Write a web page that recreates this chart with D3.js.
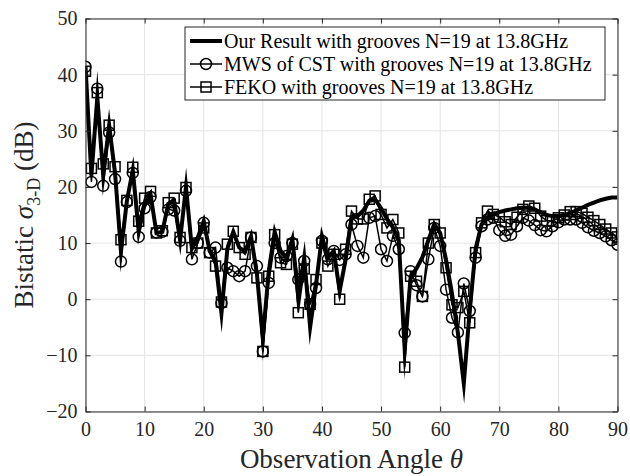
<!DOCTYPE html>
<html>
<head>
<meta charset="utf-8">
<script src="https://cdn.jsdelivr.net/npm/d3@7"></script>
<style>
  html, body { margin: 0; padding: 0; background: #fff; }
  svg { display: block; font-family: "Liberation Serif", "Times New Roman", serif; }
</style>
</head>
<body>
<svg id="chart" width="630" height="476"></svg>
<script>
// Observation angles in degrees (1 degree sampling)
const angles = d3.range(0, 91, 1);

// Bistatic RCS (dB) - our result
const ourResult = [
  41.5, 22, 36, 22, 31, 22.5, 8.5, 17.5, 23, 12,
  17, 18.7, 11.8, 12, 17, 17.5, 10.5, 20, 9, 11,
  13.9, 8.6, 6.8, -2.5, 9, 12, 9.2, 8.5, 11.2, 4.5,
  -7, 5, 12, 8.6, 7.4, 10.7, 0.5, 7.4, -5, 2.6,
  11.2, 7.4, 8.6, 1.5, 7, 14.5, 14.8, 15.8, 17.5, 17.8,
  16.2, 14.3, 12.8, 10.5, -9, 4, 5.5, 7.5, 10.5, 13.4,
  11.8, 7, 1, -6, -15, -2, 9, 13.3, 14.5, 15.1,
  15.5, 15.8, 16, 16.2, 16.3, 16.3, 16, 15.5, 15, 14.8,
  14.8, 15, 15.4, 15.8, 16.3, 16.8, 17.2, 17.6, 17.9, 18.1,
  18.1
];

// MWS of CST
const mwsCst = [
  41.4, 20.9, 37.5, 20.2, 29.7, 21.4, 6.7, 17.3, 22.5, 11.1,
  16.2, 18.2, 11.9, 12.0, 16.0, 15.8, 10.4, 19.3, 7.1, 10.0,
  13.6, 8.3, 9.2, -0.7, 5.6, 5.0, 4.1, 5.0, 11.0, 5.9,
  -9.3, 2.9, 10.0, 7.4, 7.7, 10.0, 3.5, 6.8, -0.9, 2.0,
  10.4, 7.1, 8.6, 7.0, 8.0, 13.3, 9.5, 7.4, 14.5, 14.8,
  8.9, 6.8, 11.3, 8.9, -6.0, 5.0, 2.5, 0.5, 7.1, 12.7,
  9.5, 1.7, -3.3, -5.9, 2.8, -2.1, 7.4, 13.0, 14.2, 14.5,
  12.3, 11.3, 11.5, 13.0, 14.5, 14.0, 13.2, 12.3, 12.1, 13.0,
  13.7, 14.2, 14.2, 14.2, 13.6, 12.8, 12.2, 11.8, 11.2, 10.5,
  9.7
];

// FEKO
const feko = [
  40.6, 23.3, 36.8, 24.1, 31.0, 23.6, 10.6, 17.6, 23.5, 13.9,
  18.0, 19.2, 11.8, 12.2, 17.2, 18.0, 11.0, 19.9, 9.2, 10.0,
  12.7, 8.3, 5.9, -0.5, 9.8, 12.1, 9.2, 8.0, 11.0, 3.8,
  -9.3, 4.1, 11.5, 6.5, 6.2, 9.8, -2.4, 5.4, -0.9, 3.5,
  10.0, 5.9, 8.0, 0.0, 8.9, 15.7, 14.3, 14.3, 17.8, 18.4,
  15.1, 12.7, 14.2, 11.8, -12.1, 4.1, 3.2, 0.5, 10.0, 13.3,
  11.8, 5.6, -1.0, -1.5, 1.4, -4.2, 8.3, 13.6, 15.7, 15.1,
  14.6, 13.8, 13.3, 14.6, 16.0, 16.6, 16.2, 14.8, 14.0, 13.9,
  14.5, 15.0, 15.6, 15.6, 15.3, 14.6, 14.0, 13.3, 12.5, 11.8,
  11.1
];

const xTicks = [0, 10, 20, 30, 40, 50, 60, 70, 80, 90];
const yTicks = [-20, -10, 0, 10, 20, 30, 40, 50];

const legendLabels = [
  "Our Result with grooves N=19 at 13.8GHz",
  "MWS of CST with grooves N=19 at 13.8GHz",
  "FEKO with grooves N=19 at 13.8GHz"
];

const ink = "#262626";
const plot = { left: 85.5, right: 617.5, top: 18.5, bottom: 411.5 };

const svg = d3.select("#chart");
const x = d3.scaleLinear().domain([0, 90]).range([plot.left, plot.right]);
const y = d3.scaleLinear().domain([-20, 50]).range([plot.bottom, plot.top]);

// Grid
const grid = svg.append("g").attr("stroke", "#e3e3e3").attr("stroke-width", 1);
grid.selectAll("line.gx").data(xTicks).join("line")
  .attr("x1", d => x(d)).attr("x2", d => x(d))
  .attr("y1", plot.top).attr("y2", plot.bottom);
grid.selectAll("line.gy").data(yTicks).join("line")
  .attr("x1", plot.left).attr("x2", plot.right)
  .attr("y1", d => y(d)).attr("y2", d => y(d));

// Clip region for data
svg.append("clipPath").attr("id", "plotClip").append("rect")
  .attr("x", plot.left).attr("y", plot.top - 1)
  .attr("width", plot.right - plot.left).attr("height", plot.bottom - plot.top + 2);

const dataG = svg.append("g").attr("clip-path", "url(#plotClip)");
const lineGen = d3.line().x((d, i) => x(angles[i])).y(d => y(d));

// Our result: thick line with sharp mitred joins
dataG.append("path").datum(ourResult)
  .attr("d", lineGen)
  .attr("fill", "none").attr("stroke", "#000")
  .attr("stroke-width", 4)
  .attr("stroke-linejoin", "miter").attr("stroke-miterlimit", 15);

// MWS of CST: thin line with circles
dataG.append("path").datum(mwsCst)
  .attr("d", lineGen)
  .attr("fill", "none").attr("stroke", "#000").attr("stroke-width", 1.5);
dataG.selectAll("circle.mws").data(mwsCst).join("circle")
  .attr("cx", (d, i) => x(angles[i])).attr("cy", d => y(d))
  .attr("r", 5.5).attr("fill", "none").attr("stroke", "#000").attr("stroke-width", 1.5);

// FEKO: thin line with squares
dataG.append("path").datum(feko)
  .attr("d", lineGen)
  .attr("fill", "none").attr("stroke", "#000").attr("stroke-width", 1.5);
dataG.selectAll("rect.feko").data(feko).join("rect")
  .attr("x", (d, i) => x(angles[i]) - 5).attr("y", d => y(d) - 5)
  .attr("width", 10).attr("height", 10)
  .attr("fill", "none").attr("stroke", "#000").attr("stroke-width", 1.5);

// Axes with inward ticks on all four sides
const tickLen = 5;
function styleAxis(g) {
  g.select(".domain").attr("stroke", ink).attr("stroke-width", 1);
  g.selectAll(".tick line").attr("stroke", ink).attr("stroke-width", 1);
}
svg.append("g").attr("transform", `translate(0,${plot.bottom})`)
  .call(d3.axisBottom(x).tickValues(xTicks).tickSize(-tickLen).tickPadding(10).tickSizeOuter(0))
  .call(styleAxis)
  .call(g => g.selectAll("text").attr("fill", ink).attr("font-size", 20)
    .attr("font-family", "Liberation Serif, Times New Roman, serif"));
svg.append("g").attr("transform", `translate(0,${plot.top})`)
  .call(d3.axisTop(x).tickValues(xTicks).tickSize(-tickLen).tickFormat("").tickSizeOuter(0))
  .call(styleAxis);
svg.append("g").attr("transform", `translate(${plot.left},0)`)
  .call(d3.axisLeft(y).tickValues(yTicks).tickSize(-tickLen).tickPadding(8).tickSizeOuter(0))
  .call(styleAxis)
  .call(g => g.selectAll("text").attr("fill", ink).attr("font-size", 20)
    .attr("font-family", "Liberation Serif, Times New Roman, serif"));
svg.append("g").attr("transform", `translate(${plot.right},0)`)
  .call(d3.axisRight(y).tickValues(yTicks).tickSize(-tickLen).tickFormat("").tickSizeOuter(0))
  .call(styleAxis);

// Axis titles
const xTitle = svg.append("text")
  .attr("x", (plot.left + plot.right) / 2).attr("y", 468)
  .attr("text-anchor", "middle").attr("font-size", 27).attr("fill", ink);
xTitle.append("tspan").text("Observation Angle ");
xTitle.append("tspan").attr("font-style", "italic").text("θ");

const yTitle = svg.append("text")
  .attr("transform", `translate(33,${(plot.top + plot.bottom) / 2}) rotate(-90)`)
  .attr("text-anchor", "middle").attr("font-size", 27).attr("fill", ink);
yTitle.append("tspan").text("Bistatic ");
yTitle.append("tspan").attr("font-style", "italic").text("σ");
yTitle.append("tspan").attr("font-size", 18).attr("dy", 7).text("3-D");
yTitle.append("tspan").attr("dy", -7).text(" (dB)");

// Legend
const legend = svg.append("g");
legend.append("rect")
  .attr("x", 185).attr("y", 27).attr("width", 420).attr("height", 73)
  .attr("fill", "#fff").attr("stroke", ink).attr("stroke-width", 1);
const rowY = [41, 64, 87];
legendLabels.forEach((label, i) => {
  const yy = rowY[i];
  legend.append("line")
    .attr("x1", 190).attr("x2", 222).attr("y1", yy).attr("y2", yy)
    .attr("stroke", "#000").attr("stroke-width", i === 0 ? 4 : 1.5);
  if (i === 1) {
    legend.append("circle").attr("cx", 206).attr("cy", yy).attr("r", 5.5)
      .attr("fill", "none").attr("stroke", "#000").attr("stroke-width", 1.5);
  }
  if (i === 2) {
    legend.append("rect").attr("x", 201).attr("y", yy - 5).attr("width", 10).attr("height", 10)
      .attr("fill", "none").attr("stroke", "#000").attr("stroke-width", 1.5);
  }
  legend.append("text").attr("x", 224).attr("y", yy + 7)
    .attr("font-size", 20).attr("fill", "#000").text(label);
});
</script>
</body>
</html>
